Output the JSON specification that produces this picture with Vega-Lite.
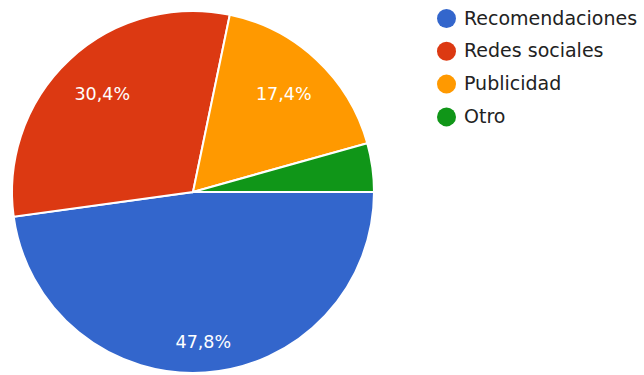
{
  "$schema": "https://vega.github.io/schema/vega-lite/v6.json",
  "width": 386,
  "height": 362,
  "padding": {"left": 0, "top": 7, "right": 0, "bottom": 0},
  "background": "#ffffff",
  "data": {
    "values": [
      {"respuesta": "Recomendaciones", "cantidad": 11, "orden": 1, "etiqueta": "47,8%"},
      {"respuesta": "Redes sociales", "cantidad": 7, "orden": 2, "etiqueta": "30,4%"},
      {"respuesta": "Publicidad", "cantidad": 4, "orden": 3, "etiqueta": "17,4%"},
      {"respuesta": "Otro", "cantidad": 1, "orden": 4, "etiqueta": ""}
    ]
  },
  "encoding": {
    "theta": {"field": "cantidad", "type": "quantitative", "stack": "zero", "scale": {"range": [1.5708, 7.854]}},
    "order": {"field": "orden", "type": "ordinal"}
  },
  "layer": [
    {
      "mark": {"type": "arc", "stroke": "#ffffff", "strokeWidth": 2},
      "encoding": {
        "color": {
          "field": "respuesta",
          "type": "nominal",
          "sort": ["Recomendaciones", "Redes sociales", "Publicidad", "Otro"],
          "scale": {
            "domain": ["Recomendaciones", "Redes sociales", "Publicidad", "Otro"],
            "range": ["#3366cc", "#dc3912", "#ff9900", "#109618"]
          },
          "legend": {
            "title": null,
            "orient": "none",
            "legendX": 437,
            "legendY": -2,
            "symbolType": "circle",
            "symbolSize": 361,
            "symbolStrokeWidth": 0,
            "labelFont": "DejaVu Sans",
            "labelFontSize": 19,
            "labelColor": "#222222",
            "labelOffset": 8,
            "labelLimit": 300,
            "rowPadding": 12.8
          }
        }
      }
    },
    {
      "transform": [{"filter": "datum.orden == 1"}],
      "mark": {"type": "text", "radius": 151, "font": "DejaVu Sans", "fontSize": 17.5, "fill": "#ffffff", "align": "center", "baseline": "middle"},
      "encoding": {
        "theta": {"field": "cantidad", "type": "quantitative", "stack": "zero", "scale": {"range": [1.5708, 7.854]}},
        "text": {"field": "etiqueta", "type": "nominal"}
      }
    },
    {
      "mark": {"type": "text", "radius": 133, "font": "DejaVu Sans", "fontSize": 17.5, "fill": "#ffffff", "align": "center", "baseline": "middle"},
      "encoding": {
        "text": {"condition": {"test": "datum.orden == 1", "value": ""}, "field": "etiqueta", "type": "nominal"}
      }
    }
  ]
}
